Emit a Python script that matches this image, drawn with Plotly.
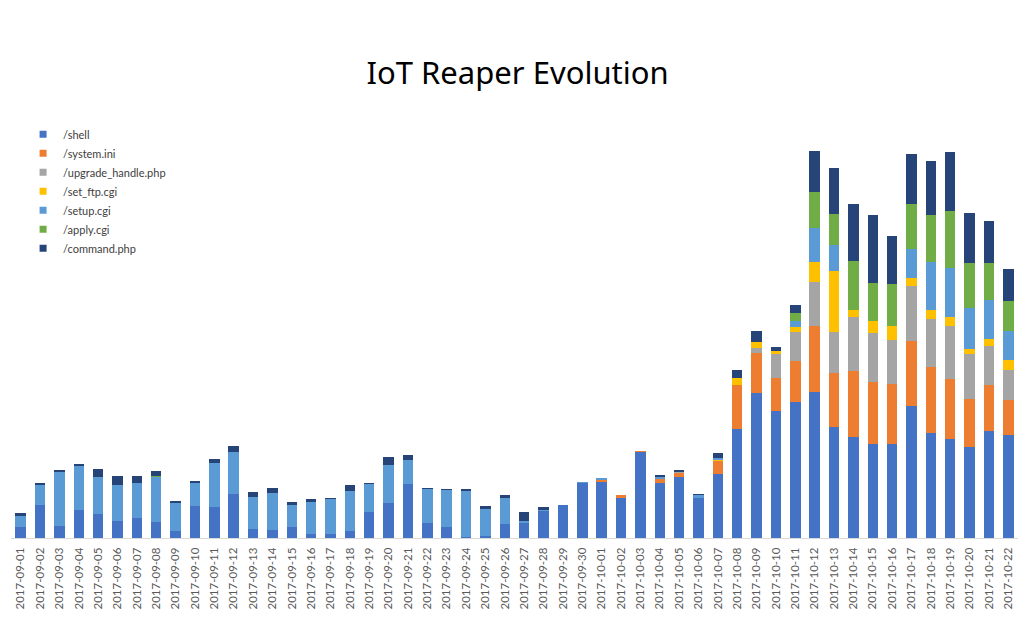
import plotly.graph_objects as go

dates = ["2017-09-%02d" % d for d in range(1, 31)] + ["2017-10-%02d" % d for d in range(1, 23)]

shell = [11, 33, 12, 28, 24, 17, 20, 16, 7, 32, 31, 44, 9, 8, 11, 4, 4, 7, 26, 35,
         54, 15, 11, 1, 2, 14, 15, 27, 33, 55,
         56, 40, 86, 55, 61, 40, 64, 109, 145, 127, 136, 146, 111, 101, 94, 94, 132, 105, 99, 91, 107, 103]
system_ini = [0] * 30 + [2.5, 3, 1, 4.5, 4.5, 0, 13, 44, 40, 33, 41, 66, 54, 66, 62, 60, 65, 66, 60, 48, 46, 35]
upgrade_handle = [0] * 30 + [0, 0, 0, 0, 1, 0, 0, 0, 5, 24, 29, 44, 41, 54, 49, 44, 55, 48, 53, 45, 39, 30]
set_ftp = [0] * 30 + [0, 0, 0, 0, 0, 0, 1.3, 7, 6, 3, 5, 20, 61, 7, 12, 14, 8, 9, 9, 5, 7, 10]
setup = [11, 20, 54, 44, 37, 36, 35, 45, 28, 23, 44, 42, 32, 37, 22, 32, 35, 40, 28, 38,
         24, 34, 37, 46, 27, 26, 2, 1, 0, 1,
         2, 0, 0, 2, 0, 3, 1.5, 0, 0, 0, 6, 34, 26, 0, 0, 0, 29, 48, 49, 41, 39, 29]
apply_cgi = [0, 0, 0, 0, 0, 0, 0, 1] + [0] * 22 + [0, 0, 0, 0, 0, 0, 0, 0, 0, 0, 8, 36, 31, 49, 38, 42, 45, 47, 57, 45, 37, 30]
command = [2.7, 2, 1.3, 2, 8, 9, 7, 5, 1.7, 1.7, 3.7, 6, 5, 5, 3, 2.7, 1, 6, 1, 7.7,
           5, 1, 1, 2, 3, 2.7, 9, 3, 0, 0,
           0, 0, 0, 1, 2, 1, 5.7, 7.7, 10.7, 4, 8, 41, 46, 57, 68, 48, 50, 54, 59, 50, 42, 32]

series_names = ["/shell", "/system.ini", "/upgrade_handle.php", "/set_ftp.cgi", "/setup.cgi", "/apply.cgi", "/command.php"]
series_values = [shell, system_ini, upgrade_handle, set_ftp, setup, apply_cgi, command]
colors = ["#4472C4", "#ED7D31", "#A5A5A5", "#FFC000", "#5B9BD5", "#70AD47", "#264478"]

fig = go.Figure()
for name, vals, col in zip(series_names, series_values, colors):
    fig.add_trace(go.Bar(x=dates, y=vals, name=name, marker=dict(color=col, line=dict(width=0)),
                         showlegend=False))
for name, col in zip(series_names, colors):
    fig.add_trace(go.Scatter(x=[None], y=[None], mode="markers", name=name,
                             marker=dict(symbol="square", size=7, color=col)))

fig.update_layout(
    width=1027, height=617,
    barmode="stack", bargap=0.46,
    paper_bgcolor="white", plot_bgcolor="white",
    margin=dict(l=11, r=9, t=100, b=79),
    title=dict(text="IoT Reaper Evolution", x=0.504, xanchor="center", y=0.881, yanchor="middle",
               font=dict(family="Noto Sans", size=31, color="#000000")),
    font=dict(family="Lato", size=11, color="#595959"),
    legend=dict(x=0.012, xanchor="left", y=0.955, yanchor="top", traceorder="normal",
                font=dict(family="Lato", size=11, color="#404040"), bgcolor="rgba(0,0,0,0)",
                itemwidth=30, tracegroupgap=0),
    showlegend=True,
)
fig.update_xaxes(type="category", tickangle=-90, showline=True, linecolor="#D9D9D9", linewidth=1,
                 showgrid=False, ticks="", automargin=False, ticklabelstandoff=4,
                 tickfont=dict(family="Lato", size=11.5, color="#595959"))
fig.update_yaxes(range=[0, 438], visible=False, showgrid=False, automargin=False)

fig.write_html("out.html", config={"displayModeBar": False},
               post_script="document.body.style.margin='0';document.body.style.overflow='hidden';")
